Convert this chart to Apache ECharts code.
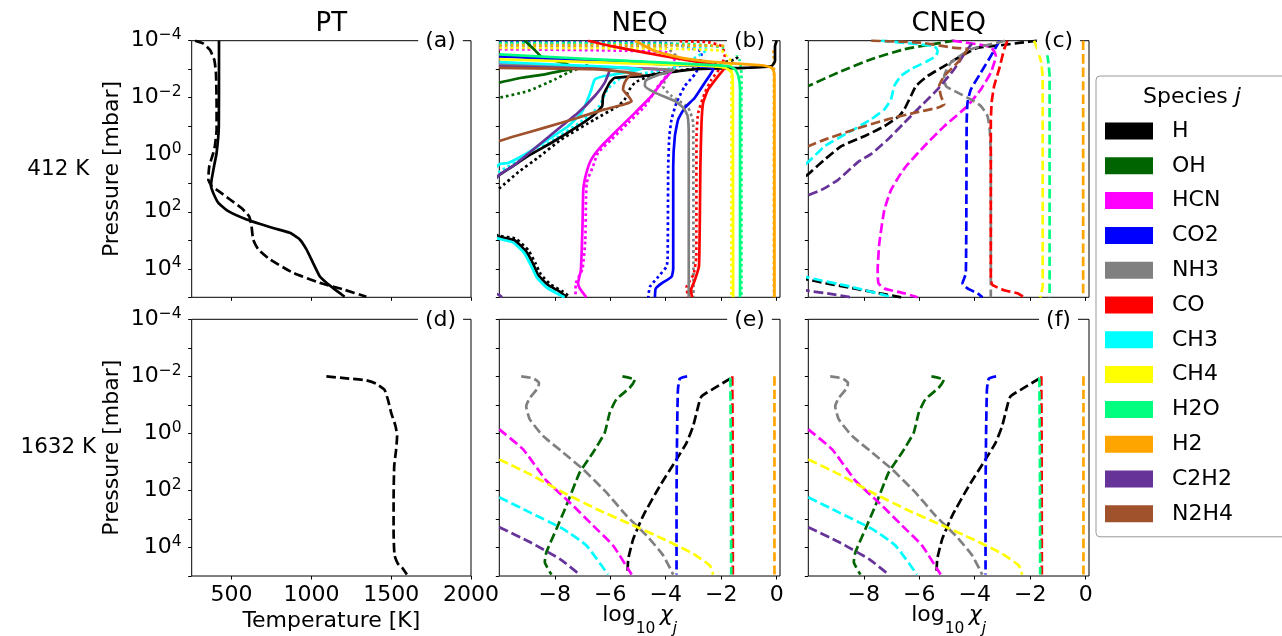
<!DOCTYPE html>
<html><head><meta charset="utf-8">
<script src="https://cdn.jsdelivr.net/npm/echarts@6/dist/echarts.min.js"></script>
<style>html,body{margin:0;padding:0;background:#fff}#c{width:1282px;height:636px}</style>
</head><body><div id="c"></div>
<script>
// ---------------- DATA ----------------
const SPECIES = ['H','OH','HCN','CO2','NH3','CO','CH3','CH4','H2O','H2','C2H2','N2H4'];
const COLORS  = ['#000000','#006400','#ff00ff','#0000ff','#808080','#ff0000','#00ffff','#ffff00','#00ff7f','#ffa500','#663399','#a0522d'];
const TITLES = ['PT','NEQ','CNEQ'];
const ROW_LABELS = ['412 K','1632 K'];
const PANEL_TAGS = ['(a)','(b)','(c)','(d)','(e)','(f)'];
const Y_TICKS = [-4,-3,-2,-1,0,1,2,3,4,5];      // log10 P [mbar]
const Y_LABELS = [-4,-2,0,2,4];
const T_TICKS = [500,1000,1500,2000];
const CHI_TICKS = [-8,-6,-4,-2,0];

// PT profiles: [T (K), log10 P (mbar)]
const PT412_SOLID = [[421,-4],[421,-3],[420,-1],[406,-0.06],[390,0.4],[375,0.87],[371,1.1],[385,1.34],[417,1.69],[479,1.98],[594,2.27],[760,2.57],[865,2.74],[927,2.97],[969,3.32],[1010,3.79],[1052,4.26],[1094,4.49],[1146,4.72],[1208,4.98]];
const PT412_DASH  = [[271,-4],[323,-3.9],[365,-3.67],[392,-3.32],[402,-2.86],[406,-1.8],[406,-0.87],[395,-0.3],[385,-0.06],[360,0.41],[354,0.87],[375,1.1],[417,1.27],[490,1.57],[562,1.87],[610,2.16],[625,2.51],[635,2.97],[667,3.32],[740,3.67],[885,4.14],[1052,4.49],[1198,4.72],[1344,4.98]];
const PT1632_DASH = [[1094,-2.0],[1219,-1.93],[1344,-1.86],[1406,-1.74],[1458,-1.53],[1479,-1.19],[1500,-0.72],[1527,-0.26],[1537,0.09],[1531,0.56],[1519,1.14],[1515,2.3],[1515,3.47],[1521,4.28],[1542,4.57],[1573,4.74],[1598,4.95]];

// Panel (b) NEQ 412 K : [log10 chi, log10 P]
const NEQ412_H_SOLID = [[0,-4],[-0.06,-3.8],[-0.06,-3.3],[-0.18,-3.11],[-1.14,-3.05],[-2.95,-3.0],[-4.87,-2.76],[-5.84,-2.7],[-6.02,-2.53],[-6.26,-2.06],[-6.29,-1.71],[-6.56,-1.42],[-7.16,-1.0],[-8.12,-0.42],[-8.97,0.05],[-9.51,0.4],[-10,0.71],[-11,1.5],[-11,2.5],[-10,2.88],[-9.45,3.0],[-9.03,3.4],[-8.79,3.81],[-8.6,4.22],[-8.24,4.57],[-7.82,4.8],[-7.58,5.0]];
const NEQ412_H_DOT = [[-1.0,-3.9],[-1.5,-3.35],[-3.0,-3.02],[-4.4,-2.85],[-4.75,-2.7],[-5.11,-2.53],[-5.35,-2.23],[-5.48,-1.94],[-5.72,-1.71],[-6.56,-1.24],[-7.76,-0.54],[-8.6,0.1],[-9.3,0.6],[-10,1.18],[-11,1.9],[-11,2.5],[-10,2.84],[-9.4,2.95],[-8.95,3.35],[-8.7,3.8],[-8.5,4.2],[-8.15,4.55],[-7.7,4.8],[-7.45,5.0]];
const NEQ412_OH_SOLID = [[-9.08,-4.0],[-8.75,-3.7],[-8.45,-3.42],[-7.6,-3.2],[-7.3,-3.02],[-7.76,-2.94],[-8.36,-2.82],[-9.2,-2.7],[-10,-2.53]];
const NEQ412_OH_DOT = [[-6.8,-3.15],[-7.52,-2.88],[-8.0,-2.64],[-8.97,-2.23],[-10,-2.0]];
const NEQ412_HCN_SOLID = [[-10,-3.2],[-5,-3.03],[-3.79,-2.94],[-4.15,-2.53],[-4.51,-2.06],[-5.11,-1.47],[-5.72,-0.89],[-6.32,-0.3],[-6.68,0.16],[-6.85,0.6],[-6.97,1.2],[-7.0,2.5],[-7.06,4.05],[-7.16,4.51],[-7.1,4.69],[-6.86,5.0]];
const NEQ412_HCN_DOT = [[-10,-3.7],[-4,-3.6],[-3.6,-3.2],[-3.95,-2.8],[-4.27,-2.41],[-4.75,-1.7],[-5.35,-1.12],[-5.96,-0.53],[-6.44,-0.07],[-6.62,0.4],[-6.85,1.0],[-6.9,3.0],[-7.0,4.0],[-7.25,4.55],[-7.25,5.0]];
const NEQ412_CO2_SOLID = [[-10,-3.45],[-5,-3.22],[-2.5,-3.08],[-2.29,-3.0],[-2.59,-2.53],[-2.95,-2.0],[-3.31,-1.65],[-3.55,-1.24],[-3.67,-0.65],[-3.73,0.4],[-3.73,4.0],[-3.79,4.28],[-4.15,4.51],[-4.36,4.69],[-4.39,5.0]];
const NEQ412_CO2_DOT = [[-10,-3.94],[-4,-3.92],[-2.7,-3.6],[-2.8,-3.1],[-2.95,-2.82],[-3.31,-2.41],[-3.61,-1.83],[-3.79,-1.24],[-3.87,-0.65],[-3.91,0.4],[-3.93,3.6],[-3.97,3.92],[-4.27,4.28],[-4.57,4.63],[-4.63,5.0]];
const NEQ412_NH3_SOLID = [[-10,-3.15],[-6,-3.05],[-3.7,-2.97],[-4.2,-2.82],[-4.72,-2.6],[-4.75,-2.41],[-4.39,-2.18],[-3.67,-1.88],[-3.37,-1.65],[-3.21,-1.36],[-3.17,-0.65],[-3.17,5.0]];
const NEQ412_NH3_DOT = [[-10,-3.8],[-4,-3.75],[-3.5,-3.3],[-3.9,-2.85],[-4.1,-2.4],[-3.79,-2.06],[-3.19,-1.65],[-3.01,-1.12],[-3.0,5.0]];
const NEQ412_CO_SOLID = [[-6.8,-4.0],[-5.96,-3.81],[-4.75,-3.58],[-3.43,-3.35],[-2.35,-3.17],[-1.87,-3.05],[-2.11,-2.76],[-2.47,-2.29],[-2.65,-1.83],[-2.71,-1.12],[-2.75,0.4],[-2.8,3.9],[-2.95,4.4],[-3.09,4.75],[-3.05,5.0]];
const NEQ412_CO_DOT = [[-3.5,-3.98],[-2.47,-3.95],[-1.99,-3.81],[-1.87,-3.52],[-1.99,-3.11],[-2.35,-2.64],[-2.59,-2.17],[-2.83,-1.47],[-2.89,-0.65],[-2.9,3.6],[-3.0,4.2],[-3.25,4.65],[-3.19,5.0]];
const NEQ412_CH3_SOLID = [[-10,-3.25],[-6,-3.08],[-4.87,-3.0],[-6.2,-2.76],[-6.56,-2.64],[-6.68,-2.29],[-6.86,-1.83],[-7.04,-1.47],[-7.52,-1.0],[-8.24,-0.54],[-8.97,-0.07],[-9.69,0.29],[-10,0.33],[-11,1.5],[-11,2.5],[-10,2.95],[-9.5,3.08],[-9.1,3.45],[-8.85,3.9],[-8.65,4.3],[-8.3,4.65],[-7.9,4.88],[-7.65,5.0]];
const NEQ412_CH3_DOT = [[-10,-3.88],[-4,-3.85],[-2.5,-3.7],[-3.5,-3.1],[-5.6,-2.7],[-6.1,-2.3],[-6.4,-1.7],[-7.0,-1.2],[-8.0,-0.55],[-9.0,0.05],[-10,0.6],[-11,1.5],[-11,2.5],[-10,2.9],[-9.45,3.02],[-9.05,3.42],[-8.8,3.85],[-8.6,4.25],[-8.25,4.6],[-7.85,4.85],[-7.6,5.0]];
const NEQ412_CH4_SOLID = [[-10,-3.35],[-2.95,-3.13],[-1.86,-3.05],[-1.62,-2.88],[-1.58,-2.41],[-1.57,5.0]];
const NEQ412_CH4_DOT = [[-10,-3.75],[-4,-3.72],[-2,-3.65],[-1.7,-3.4],[-1.63,-3.0],[-1.63,5.0]];
const NEQ412_H2O_SOLID = [[-10,-3.52],[-5.35,-3.29],[-1.75,-3.11],[-1.5,-3.0],[-1.38,-2.76],[-1.32,-2.29],[-1.32,5.0]];
const NEQ412_H2O_DOT = [[-10,-3.92],[-3,-3.88],[-1.6,-3.7],[-1.33,-3.3],[-1.27,-2.8],[-1.27,5.0]];
const NEQ412_H2_SOLID = [[-5.11,-4.0],[-4.39,-3.64],[-3.43,-3.4],[-1.99,-3.23],[-0.54,-3.14],[-0.18,-3.05],[-0.09,-2.88],[-0.08,-2.5],[-0.08,5.0]];
const NEQ412_H2_DOT = [[-10,-3.85],[-5,-3.84],[-2,-3.82],[-0.5,-3.78],[-0.12,-3.6],[-0.1,-3.0],[-0.1,5.0]];
const NEQ412_C2H2_SOLID = [[-10,-3.1],[-7,-3.02],[-6.02,-2.97],[-6.2,-2.53],[-6.56,-2.06],[-7.16,-1.47],[-7.76,-1.0],[-8.48,-0.42],[-9.2,0.16],[-9.51,0.4],[-10,0.71],[-11,2],[-11,4.5],[-10,4.92],[-9.9,5.0]];
const NEQ412_N2H4_SOLID = [[-10,-3.05],[-6.56,-3.0],[-4.87,-2.82],[-5.3,-2.78],[-5.48,-2.53],[-5.54,-2.29],[-5.35,-2.06],[-5.23,-1.88],[-5.48,-1.77],[-6.2,-1.59],[-7.16,-1.3],[-8.36,-0.95],[-9.45,-0.65],[-10,-0.48]];

// Panel (c) CNEQ 412 K
const CNEQ412_H = [[-1.74,-4],[-2.34,-3.93],[-3.06,-3.84],[-3.9,-3.75],[-4.5,-3.46],[-5.1,-3.11],[-5.7,-2.76],[-6.12,-2.41],[-6.3,-2.06],[-6.54,-1.59],[-6.72,-1.36],[-7.26,-1.0],[-7.98,-0.65],[-8.81,-0.3],[-9.45,0.2],[-10,0.68],[-11,1.5],[-11,4],[-10,4.38],[-8.3,4.7],[-6.65,5.0]];
const CNEQ412_OH = [[-4.74,-4.0],[-5.58,-3.87],[-6.54,-3.7],[-7.73,-3.35],[-8.93,-2.88],[-10,-2.41]];
const CNEQ412_HCN = [[-4.8,-4.0],[-3.42,-3.78],[-3.24,-3.46],[-3.42,-2.88],[-3.78,-2.29],[-4.26,-1.71],[-5.1,-1.0],[-5.82,-0.3],[-6.42,0.34],[-6.66,0.65],[-7.02,1.24],[-7.26,1.94],[-7.44,3.11],[-7.5,4.05],[-7.47,4.51],[-7.26,4.69],[-6.54,4.86],[-6.06,5.0]];
const CNEQ412_CO2 = [[-3.1,-4.0],[-3.42,-3.46],[-3.78,-2.88],[-4.14,-2.29],[-4.26,-1.83],[-4.29,-1.12],[-4.32,4.16],[-4.44,4.51],[-4.26,4.69],[-3.9,4.86],[-3.72,5.0]];
const CNEQ412_NH3 = [[-2.9,-4.0],[-3.18,-3.93],[-4.14,-3.7],[-4.86,-3.23],[-5.1,-2.76],[-5.04,-2.41],[-4.62,-2.18],[-4.14,-1.94],[-3.78,-1.71],[-3.54,-1.36],[-3.46,-0.89],[-3.42,0],[-3.42,5.0]];
const CNEQ412_CO = [[-2.82,-4],[-2.94,-3.7],[-3.12,-3.0],[-3.3,-2.41],[-3.39,-1.83],[-3.42,-1.12],[-3.42,4.35],[-3.36,4.57],[-2.94,4.75],[-2.46,4.86],[-2.22,5.0]];
const CNEQ412_CH3 = [[-7.37,-4],[-5.46,-3.81],[-5.34,-3.64],[-5.4,-3.46],[-5.7,-3.29],[-6.3,-3.0],[-6.66,-2.76],[-6.9,-2.41],[-7.02,-1.94],[-7.26,-1.59],[-7.74,-1.24],[-8.57,-0.77],[-9.41,-0.3],[-10,0.25],[-11,1],[-11,4],[-10,4.31],[-8.5,4.62],[-6.95,5.0]];
const CNEQ412_CH4 = [[-1.86,-4],[-1.74,-3.7],[-1.6,-3.23],[-1.55,-2.64],[-1.55,4.6],[-1.6,4.85],[-1.64,5.0]];
const CNEQ412_H2O = [[-1.45,-4.0],[-1.4,-3.6],[-1.36,-3.35],[-1.3,-2.76],[-1.3,5.0]];
const CNEQ412_H2 = [[-0.09,-4.0],[-0.09,5.0]];
const CNEQ412_C2H2 = [[-4.1,-3.9],[-4.26,-3.7],[-4.74,-3.0],[-5.34,-2.29],[-5.94,-1.71],[-6.54,-1.12],[-7.14,-0.53],[-7.7,-0.05],[-8.2,0.25],[-8.94,0.89],[-9.54,1.24],[-10,1.42],[-11,2],[-11,4.5],[-10,4.77],[-9.2,4.88],[-8.46,5.0]];
const CNEQ412_N2H4 = [[-7.73,-4],[-5.94,-3.93],[-4.74,-3.75],[-4.26,-3.7],[-4.62,-3.23],[-5.1,-2.76],[-5.28,-2.41],[-5.22,-2.06],[-5.1,-1.77],[-5.34,-1.65],[-6.18,-1.47],[-7.14,-1.24],[-8.34,-0.89],[-9.41,-0.53],[-10,-0.3]];

// Panels (e) and (f), 1632 K (identical in the figure)
const K1632_H = [[-1.66,-1.93],[-2.29,-1.56],[-2.71,-1.3],[-2.83,-0.95],[-3.01,-0.26],[-3.25,0.33],[-3.61,0.91],[-4.21,1.84],[-4.81,2.88],[-5.17,3.7],[-5.35,4.4],[-5.38,4.95]];
const K1632_OH = [[-5.56,-2.0],[-5.11,-1.88],[-5.3,-1.6],[-5.78,-1.19],[-6.02,-0.72],[-6.2,-0.02],[-6.62,0.67],[-7.1,1.37],[-7.58,2.53],[-7.94,3.35],[-8.3,4.16],[-8.36,4.51],[-8.12,4.95]];
const K1632_HCN = [[-10,-0.14],[-9.14,0.56],[-8.3,1.66],[-7.46,2.42],[-6.62,3.23],[-5.9,3.93],[-5.23,4.95]];
const K1632_CO2 = [[-3.23,-2.0],[-3.49,-1.92],[-3.56,-1.53],[-3.59,-0.02],[-3.61,2.3],[-3.61,4.95]];
const K1632_NH3 = [[-9.21,-2.0],[-8.78,-1.93],[-8.57,-1.77],[-8.6,-1.6],[-8.9,-1.24],[-9.03,-0.95],[-8.9,-0.49],[-8.42,0.09],[-7.7,0.67],[-6.98,1.26],[-6.14,2.07],[-5.42,2.88],[-4.69,3.58],[-4.09,4.28],[-3.73,4.95]];
const K1632_CO = [[-1.6,-2.0],[-1.59,0],[-1.58,4.95]];
const K1632_CH3 = [[-10,2.24],[-8.9,2.77],[-7.7,3.35],[-6.86,3.93],[-6.08,4.95]];
const K1632_CH4 = [[-10,0.91],[-8.9,1.43],[-7.7,2.07],[-6.5,2.65],[-5.3,3.17],[-4.09,3.7],[-3.01,4.22],[-2.41,4.63],[-2.29,4.95]];
const K1632_H2O = [[-1.67,-1.95],[-1.65,1],[-1.64,4.95]];
const K1632_H2 = [[-0.08,-2.0],[-0.08,4.95]];
const K1632_C2H2 = [[-10,3.29],[-8.9,3.81],[-7.82,4.4],[-7.1,4.95]];

// ---------------- BUILD ----------------
const NEQ412_SOLID = [NEQ412_H_SOLID,NEQ412_OH_SOLID,NEQ412_HCN_SOLID,NEQ412_CO2_SOLID,NEQ412_NH3_SOLID,NEQ412_CO_SOLID,NEQ412_CH3_SOLID,NEQ412_CH4_SOLID,NEQ412_H2O_SOLID,NEQ412_H2_SOLID,NEQ412_C2H2_SOLID,NEQ412_N2H4_SOLID];
const NEQ412_DOT = [NEQ412_H_DOT,NEQ412_OH_DOT,NEQ412_HCN_DOT,NEQ412_CO2_DOT,NEQ412_NH3_DOT,NEQ412_CO_DOT,NEQ412_CH3_DOT,NEQ412_CH4_DOT,NEQ412_H2O_DOT,NEQ412_H2_DOT,null,null];
const CNEQ412 = [CNEQ412_H,CNEQ412_OH,CNEQ412_HCN,CNEQ412_CO2,CNEQ412_NH3,CNEQ412_CO,CNEQ412_CH3,CNEQ412_CH4,CNEQ412_H2O,CNEQ412_H2,CNEQ412_C2H2,CNEQ412_N2H4];
const K1632 = [K1632_H,K1632_OH,K1632_HCN,K1632_CO2,K1632_NH3,K1632_CO,K1632_CH3,K1632_CH4,K1632_H2O,K1632_H2,K1632_C2H2,null];

const FONT = 'DejaVu Sans';
const LW = 2.7;
const DASH = [9.5, 4];
const DOT = [2.7, 3];
const GRIDS = [
  {left:191.7, top:40.7, width:279.3, height:256.6},
  {left:499.3, top:40.7, width:280.7, height:256.6},
  {left:808.3, top:40.7, width:280.7, height:256.6},
  {left:191.7, top:319.3, width:279.3, height:256.7},
  {left:499.3, top:319.3, width:280.7, height:256.7},
  {left:808.3, top:319.3, width:280.7, height:256.7}
];
const minus = v => (v < 0 ? '\u2212' + (-v) : String(v));

const grid = GRIDS.map(g => Object.assign({show:true, borderColor:'#000', borderWidth:1, backgroundColor:'rgba(0,0,0,0)'}, g));
const xAxis = GRIDS.map((g, i) => {
  const col = i % 3, row = Math.floor(i / 3);
  const isT = col === 0;
  return {
    type:'value', gridIndex:i, position:'bottom',
    min: isT ? 250 : -10, max: isT ? 2000 : 0.12,
    axisLine:{show:false, onZero:false}, splitLine:{show:false},
    axisTick:{show:true, length:3.5, customValues: isT ? T_TICKS : CHI_TICKS, lineStyle:{color:'#000', width:1}},
    axisLabel:{show: row === 1, customValues: isT ? T_TICKS : CHI_TICKS, formatter: v => minus(v),
      fontSize:22, fontFamily:FONT, color:'#000', margin:6, lineHeight:26}
  };
});
const yAxis = GRIDS.map((g, i) => {
  const col = i % 3;
  return {
    type:'value', gridIndex:i, min:-4, max:5, inverse:true, position:'left',
    axisLine:{show:false, onZero:false}, splitLine:{show:false},
    axisTick:{show:true, length:3.5, customValues:Y_TICKS, lineStyle:{color:'#000', width:1}},
    axisLabel:{show: col === 0, customValues:Y_LABELS, margin:10,
      formatter: v => '{b|10}{s|' + minus(v) + '}',
      rich:{ b:{fontSize:22, fontFamily:FONT, color:'#000', lineHeight:27},
             s:{fontSize:15.5, fontFamily:FONT, color:'#000', lineHeight:15, verticalAlign:'top'} }}
  };
});

const series = [];
function addLine(gi, name, data, color, type, z) {
  series.push({
    type:'line', name, xAxisIndex:gi, yAxisIndex:gi, data,
    symbol:'none', showSymbol:false, smooth:0.15, z, silent:true, clip:true,
    lineStyle:{color, width:LW, type, cap:'butt', join:'round'},
    itemStyle:{color}, emphasis:{disabled:true}
  });
}
SPECIES.forEach((s, k) => { if (NEQ412_SOLID[k]) addLine(1, s, NEQ412_SOLID[k], COLORS[k], 'solid', 3); });
SPECIES.forEach((s, k) => { if (NEQ412_DOT[k]) addLine(1, s, NEQ412_DOT[k], COLORS[k], DOT, 2); });
SPECIES.forEach((s, k) => { if (CNEQ412[k]) addLine(2, s, CNEQ412[k], COLORS[k], DASH, 2); });
SPECIES.forEach((s, k) => { if (K1632[k]) addLine(4, s, K1632[k], COLORS[k], DASH, 2); });
SPECIES.forEach((s, k) => { if (K1632[k]) addLine(5, s, K1632[k], COLORS[k], DASH, 2); });
addLine(0, 'PT 412 K NEQ', PT412_SOLID, '#000', 'solid', 2);
addLine(0, 'PT 412 K CNEQ', PT412_DASH, '#000', DASH, 2);
addLine(3, 'PT 1632 K', PT1632_DASH, '#000', DASH, 2);

// text elements
function T(x, y, text, size, extra) {
  extra = extra || {};
  const el = {type:'text', x, y, z:100, silent:true,
    style:Object.assign({text, fontSize:size, fontFamily:FONT, fill:'#000', align:'center', verticalAlign:'middle'}, extra.style || {})};
  if (extra.rotation) el.rotation = extra.rotation;
  return el;
}
const graphic = [];
TITLES.forEach((t, c) => { const g = GRIDS[c]; graphic.push(T(g.left + g.width/2, 24.5, t, 26)); });
ROW_LABELS.forEach((t, r) => { const g = GRIDS[r*3]; graphic.push(T(58.3, g.top + g.height/2, t, 21.5)); });
[0, 3].forEach(i => { const g = GRIDS[i]; graphic.push(T(112, g.top + g.height/2, 'Pressure [mbar]', 22, {rotation:Math.PI/2})); });
graphic.push(T(GRIDS[3].left + GRIDS[3].width/2, 621, 'Temperature [K]', 22));
const richChi = {
  a:{fontSize:22, fontFamily:FONT, fill:'#000', lineHeight:33, verticalAlign:'top'},
  i:{fontSize:22, fontFamily:FONT, fontStyle:'italic', fill:'#000', lineHeight:33, verticalAlign:'top'},
  s:{fontSize:15.5, fontFamily:FONT, fill:'#000', lineHeight:15, verticalAlign:'bottom'},
  si:{fontSize:15.5, fontFamily:FONT, fontStyle:'italic', fill:'#000', lineHeight:15, verticalAlign:'bottom'}
};
[4, 5].forEach(i => { const g = GRIDS[i];
  graphic.push({type:'text', x:g.left + g.width/2, y:604, z:100, silent:true,
    style:{text:'{a|log}{s|10}{a|\u2009}{i|\u03c7}{si|j}', rich:richChi, align:'center', verticalAlign:'top'}});
});
PANEL_TAGS.forEach((t, i) => { const g = GRIDS[i];
  graphic.push(T(g.left + g.width - 30.5, g.top + 0.5, t, 22, {style:{backgroundColor:'#fff', padding:[3,7,3,7]}}));
});
graphic.push({type:'text', x:1192, y:97, z:100, silent:true,
  style:{text:'{n|Species }{i|j}', align:'center', verticalAlign:'middle',
    rich:{n:{fontSize:22, fontFamily:FONT, fill:'#000'}, i:{fontSize:22, fontFamily:FONT, fontStyle:'italic', fill:'#000'}}}});

const option = {
  animation:false,
  backgroundColor:'#fff',
  grid, xAxis, yAxis, series, graphic,
  legend:{
    data:SPECIES, orient:'vertical', left:1096, top:76,
    padding:[44, 100, 12, 9], itemWidth:48, itemHeight:17, itemGap:12.8,
    icon:'rect', selectedMode:false,
    backgroundColor:'#fff', borderColor:'#999', borderWidth:1, borderRadius:4,
    itemStyle:{borderWidth:0},
    textStyle:{fontSize:22, fontFamily:FONT, color:'#000', padding:[0,0,0,14]}
  }
};
const chart = echarts.init(document.getElementById('c'), null, {renderer:'canvas'});
chart.setOption(option);
</script></body></html>
